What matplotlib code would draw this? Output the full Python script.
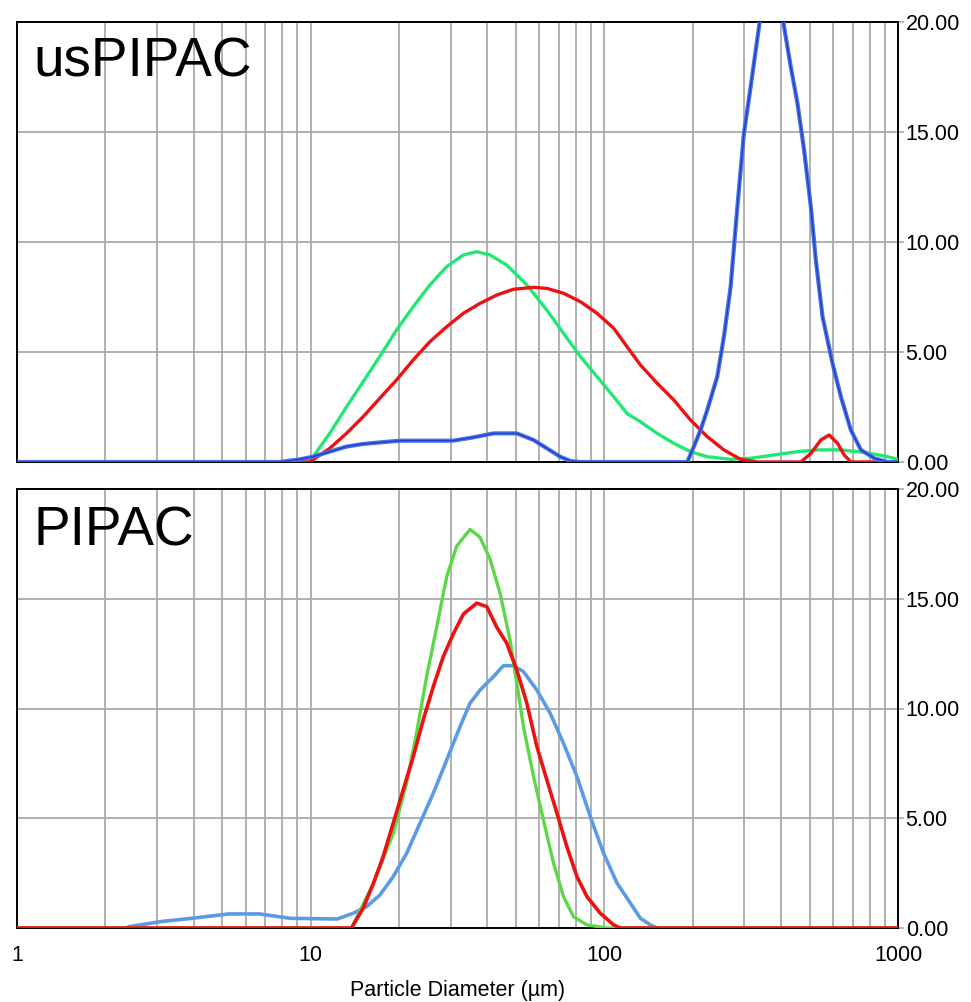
#!/usr/bin/env python

import matplotlib
matplotlib.use('Agg')
import matplotlib.pyplot as plt
from matplotlib.ticker import FixedLocator, NullFormatter, FixedFormatter

#
# Data: particle size distributions (diameter in um, volume %)
#
# usPIPAC (top panel)
us_green_d = [1, 8.5, 9.92, 11.61, 13.24, 15.09, 17.20, 19.61, 22.35, 25.48, 29.05, 33.11,
              36.78, 40.83, 46.55, 54.47, 63.74, 72.62, 82.81, 94.43, 107.6, 119.5, 132.7,
              151.3, 172.4, 196.6, 224.1, 269.2, 315.0, 378.3, 454.7, 531.9, 639.0, 728.8,
              830.3, 922.2, 1000]
us_green_v = [0, 0, 0.02, 1.3, 2.5, 3.65, 4.8, 6.0, 7.06, 8.05, 8.88, 9.41,
              9.56, 9.41, 8.95, 8.05, 6.9, 5.85, 4.8, 3.88, 2.97, 2.2, 1.83,
              1.3, 0.85, 0.47, 0.24, 0.12, 0.17, 0.32, 0.47, 0.55, 0.55, 0.47,
              0.36, 0.24, 0.12]

us_red_d = [1, 9.92, 11.61, 13.24, 15.09, 17.20, 19.61, 22.35, 25.48, 29.05, 33.11, 37.74,
            43.03, 49.0, 57.4, 63.74, 72.62, 82.81, 94.43, 107.6, 119.5, 132.7, 151.3,
            172.4, 196.6, 224.1, 255.4, 291.2, 332.1, 466.7, 504.9, 546.1, 582.9, 622.6,
            655.7, 691.1, 1000]
us_red_v = [0, 0, 0.62, 1.3, 2.06, 2.9, 3.73, 4.64, 5.47, 6.15, 6.76, 7.21,
            7.59, 7.85, 7.94, 7.89, 7.67, 7.29, 6.76, 6.08, 5.24, 4.41, 3.58,
            2.82, 1.91, 1.15, 0.55, 0.12, 0, 0, 0.39, 1.0, 1.23, 0.85,
            0.32, 0, 0]

us_blue_d = [1, 7.84, 9.17, 10.18, 11.61, 13.24, 15.09, 17.20, 20.13, 25.48, 30.60, 35.81,
             41.91, 50.35, 57.4, 63.74, 70.77, 76.56, 82.81, 191.6, 201.7, 212.6, 224.1,
             242.4, 255.4, 269.2, 283.8, 298.8, 315.0, 336.3, 374.5, 409.2, 431.3, 454.7,
             478.8, 504.9, 525.0, 553.4, 598.6, 639.0, 691.1, 747.7, 830.3, 922.2, 1000]
us_blue_v = [0, 0, 0.12, 0.24, 0.47, 0.7, 0.82, 0.89, 0.97, 0.97, 0.97, 1.12,
             1.3, 1.3, 1.0, 0.62, 0.24, 0.05, 0, 0, 0.7, 1.45, 2.36,
             3.88, 5.7, 7.97, 11.6, 14.94, 17.06, 19.79, 23.5, 19.79, 17.97, 16.3,
             14.18, 11.6, 9.18, 6.6, 4.48, 2.97, 1.45, 0.55, 0.17, 0, 0]

# PIPAC (bottom panel)
p_green_d = [1, 13.77, 16.32, 19.10, 21.22, 22.95, 24.82, 26.85, 29.05, 31.43, 34.88, 37.74,
             40.83, 44.16, 47.77, 50.35, 53.04, 57.4, 62.07, 67.14, 72.62, 78.58, 87.28,
             102.1, 1000]
p_green_v = [0, 0, 2.0, 4.3, 6.6, 8.9, 11.45, 13.7, 16.0, 17.4, 18.16, 17.8,
             16.8, 15.25, 13.1, 11.15, 9.17, 6.9, 4.9, 2.95, 1.43, 0.51, 0.14,
             0, 0]

p_red_d = [1, 13.77, 15.09, 16.32, 17.65, 19.10, 20.65, 22.35, 24.17, 26.16, 28.28, 30.60,
           33.11, 36.78, 39.78, 43.03, 46.55, 50.35, 54.47, 58.93, 63.74, 68.96, 74.59,
           80.68, 87.28, 96.9, 107.6, 113.4, 1000]
p_red_v = [0, 0, 0.9, 2.0, 3.25, 4.77, 6.29, 7.8, 9.48, 11.0, 12.36, 13.4,
           14.3, 14.8, 14.64, 13.7, 12.97, 11.75, 10.24, 8.26, 6.74, 5.23, 3.7,
           2.34, 1.43, 0.67, 0.14, 0, 0]

p_blue_d = [2.41, 3.08, 3.93, 5.25, 6.70, 8.55, 12.31, 13.95, 15.49, 17.20, 19.10, 21.22,
            23.55, 26.16, 29.05, 32.25, 34.88, 37.74, 41.91, 45.32, 49.02, 53.04, 58.93,
            65.41, 72.62, 80.68, 89.58, 99.45, 110.5, 122.7, 132.7, 143.6, 151.3]
p_blue_v = [0.06, 0.29, 0.44, 0.64, 0.64, 0.44, 0.41, 0.67, 0.97, 1.5, 2.34, 3.4,
            4.77, 6.14, 7.65, 9.17, 10.24, 10.84, 11.45, 11.95, 11.95, 11.68, 10.84,
            9.78, 8.41, 6.9, 5.07, 3.4, 2.04, 1.13, 0.44, 0.14, 0]

y_ticks = [0, 5, 10, 15, 20]
x_major = [1, 10, 100, 1000]
x_labels = ['1', '10', '100', '1000']
x_grid = [m * 10 ** e for e in range(3) for m in range(1, 10)] + [1000]

FONT = ['Liberation Sans', 'DejaVu Sans']


def style_axis(ax, show_xlabels):
    ax.set_xscale('log')
    ax.set_xlim(1, 1000)
    ax.set_ylim(0, 20)
    ax.xaxis.set_major_locator(FixedLocator(x_grid))
    ax.xaxis.set_minor_locator(FixedLocator([]))
    if show_xlabels:
        ax.xaxis.set_major_formatter(FixedFormatter(
            [x_labels[x_major.index(g)] if g in x_major else '' for g in x_grid]))
    else:
        ax.xaxis.set_major_formatter(NullFormatter())
    ax.yaxis.set_major_locator(FixedLocator(y_ticks))
    ax.yaxis.set_major_formatter(FixedFormatter(['%.2f' % v for v in y_ticks]))
    ax.yaxis.tick_right()
    ax.tick_params(axis='y', direction='out', length=4, width=1.2, color='#aaaaaa',
                   labelsize=15.5, pad=1.5, labelcolor='black')
    ax.tick_params(axis='x', length=0, labelsize=15.5, pad=12)
    ax.grid(True, color='#aaaaaa', lw=1.3, zorder=0)
    for s in ax.spines.values():
        s.set_color('black')
        s.set_linewidth(1.4)


def main():
    #
    # RC params
    #
    plt.rcParams['font.family'] = FONT
    plt.rcParams['axes.axisbelow'] = True

    fig = plt.figure(figsize=(9.71, 10.02), dpi=100)
    ax1 = fig.add_axes([17 / 971, 1 - 462 / 1002, 881 / 971, 440 / 1002])
    ax2 = fig.add_axes([17 / 971, 1 - 928 / 1002, 881 / 971, 439 / 1002])

    #
    # Top panel: usPIPAC
    #
    style_axis(ax1, False)
    ax1.plot(us_green_d, us_green_v, color='#22e872', lw=2.4, zorder=3)
    ax1.plot(us_red_d, us_red_v, color='#ee1111', lw=2.4, zorder=4)
    ax1.plot(us_blue_d, us_blue_v, color='#4a72e8', lw=3.0, zorder=5)
    ax1.plot(us_blue_d, us_blue_v, color='#1f3fc8', lw=1.0, zorder=6)
    ax1.text(16 / 881, 1 - (76.7 - 22) / 440, 'usPIPAC', transform=ax1.transAxes,
             fontsize=39.5, va='baseline', ha='left')

    #
    # Bottom panel: PIPAC
    #
    style_axis(ax2, True)
    ax2.plot(p_blue_d, p_blue_v, color='#5b9be6', lw=2.6, zorder=3)
    ax2.plot(p_green_d, p_green_v, color='#5ad846', lw=2.4, zorder=4)
    ax2.plot(p_red_d, p_red_v, color='#ee1111', lw=2.6, zorder=5)
    ax2.text(16 / 881, 1 - (545 - 489) / 439, 'PIPAC', transform=ax2.transAxes,
             fontsize=39.5, va='baseline', ha='left')
    ax2.set_xlabel('Particle Diameter (\u00b5m)', fontsize=15.5, labelpad=10)

    fig.savefig('out.png', dpi=100)


if __name__ == '__main__':
    main()
